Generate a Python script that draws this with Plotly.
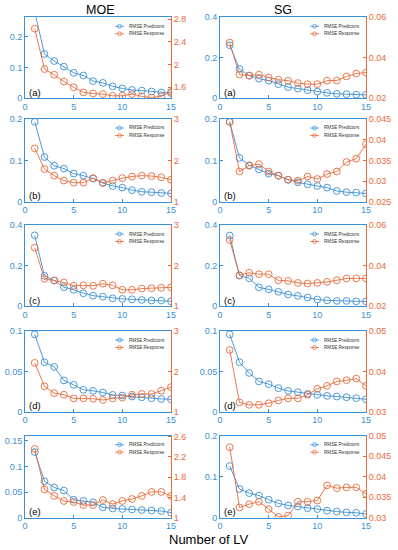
import plotly.graph_objects as go

# ---------------- data ----------------
lv = list(range(1, 16))

moe_pred_a = [0.28, 0.144, 0.121, 0.103, 0.083, 0.074, 0.056, 0.050, 0.039, 0.032, 0.027, 0.025, 0.022, 0.019, 0.017]
moe_resp_a = [2.63, 1.92, 1.82, 1.70, 1.60, 1.51, 1.49, 1.48, 1.45, 1.45, 1.48, 1.44, 1.42, 1.44, 1.52]
moe_pred_b = [0.193, 0.108, 0.087, 0.080, 0.068, 0.063, 0.056, 0.045, 0.038, 0.034, 0.028, 0.024, 0.023, 0.021, 0.020]
moe_resp_b = [2.29, 1.79, 1.63, 1.51, 1.46, 1.46, 1.57, 1.46, 1.51, 1.57, 1.61, 1.63, 1.62, 1.59, 1.53]
moe_pred_c = [0.349, 0.149, 0.126, 0.093, 0.080, 0.063, 0.051, 0.046, 0.038, 0.035, 0.033, 0.030, 0.027, 0.027, 0.023]
moe_resp_c = [2.44, 1.67, 1.63, 1.58, 1.50, 1.51, 1.50, 1.55, 1.51, 1.40, 1.40, 1.43, 1.44, 1.45, 1.46]
moe_pred_d = [0.0958, 0.0613, 0.0554, 0.0388, 0.0333, 0.0271, 0.0258, 0.0238, 0.0208, 0.0200, 0.0188, 0.0179, 0.0167, 0.0158, 0.0154]
moe_resp_d = [2.21, 1.63, 1.46, 1.42, 1.33, 1.33, 1.32, 1.29, 1.33, 1.35, 1.42, 1.44, 1.44, 1.52, 1.61]
moe_pred_e = [0.128, 0.071, 0.059, 0.053, 0.035, 0.033, 0.030, 0.020, 0.018, 0.017, 0.016, 0.015, 0.014, 0.013, 0.010]
moe_resp_e = [2.36, 1.56, 1.43, 1.33, 1.31, 1.25, 1.25, 1.35, 1.27, 1.33, 1.37, 1.43, 1.51, 1.51, 1.43]

sg_pred_a = [0.262, 0.145, 0.112, 0.097, 0.087, 0.070, 0.055, 0.048, 0.040, 0.033, 0.027, 0.022, 0.020, 0.018, 0.017]
sg_resp_a = [0.0475, 0.0317, 0.0312, 0.0317, 0.0303, 0.0292, 0.0287, 0.0275, 0.0270, 0.0270, 0.0287, 0.0288, 0.0308, 0.0322, 0.0327]
sg_pred_b = [0.193, 0.106, 0.088, 0.078, 0.068, 0.063, 0.053, 0.047, 0.042, 0.038, 0.034, 0.026, 0.023, 0.022, 0.020]
sg_resp_b = [0.0443, 0.0323, 0.0337, 0.0341, 0.0323, 0.0313, 0.0303, 0.0301, 0.0311, 0.0305, 0.0317, 0.0323, 0.0346, 0.0354, 0.0389]
sg_pred_c = [0.348, 0.150, 0.137, 0.092, 0.082, 0.070, 0.057, 0.050, 0.042, 0.032, 0.028, 0.025, 0.025, 0.023, 0.023]
sg_resp_c = [0.0526, 0.0352, 0.0364, 0.0357, 0.0357, 0.0327, 0.0324, 0.0314, 0.0311, 0.0314, 0.0319, 0.0327, 0.0336, 0.0336, 0.0336]
sg_pred_d = [0.0958, 0.0613, 0.048, 0.0375, 0.0342, 0.0292, 0.0258, 0.0242, 0.0221, 0.0208, 0.0196, 0.0188, 0.0179, 0.0167, 0.0154]
sg_resp_d = [0.0453, 0.0323, 0.0317, 0.0317, 0.0321, 0.0328, 0.0333, 0.0333, 0.0342, 0.0357, 0.0364, 0.0375, 0.0378, 0.0382, 0.0364]
sg_pred_e = [0.126, 0.070, 0.060, 0.054, 0.044, 0.035, 0.030, 0.027, 0.023, 0.021, 0.017, 0.015, 0.013, 0.012, 0.009]
sg_resp_e = [0.0472, 0.0325, 0.0333, 0.0339, 0.0321, 0.0302, 0.0305, 0.0339, 0.0339, 0.0342, 0.0379, 0.0372, 0.0374, 0.0374, 0.0358]

x_ticks = [0, 5, 10, 15]

# axis ranges and tick labels
moe_left_ranges = [[0, 0.263], [0, 0.2], [0, 0.4], [0, 0.1], [0, 0.16]]
moe_right_ranges = [[1.406, 2.83], [1, 3], [1, 3], [1, 3], [1, 2.62]]
sg_left_ranges = [[0, 0.4], [0, 0.2], [0, 0.4], [0, 0.1], [0, 0.2]]
sg_right_ranges = [[0.02, 0.06], [0.025, 0.045], [0.02, 0.06], [0.03, 0.05], [0.03, 0.05]]

moe_left_ticks = [[0, 0.1, 0.2], [0, 0.1, 0.2], [0, 0.2, 0.4], [0, 0.05, 0.1], [0, 0.05, 0.1, 0.15]]
moe_left_text = [["0", "0.1", "0.2"], ["0", "0.1", "0.2"], ["0", "0.2", "0.4"], ["0", "0.05", "0.1"], ["0", "0.05", "0.1", "0.15"]]
moe_right_ticks = [[1.6, 2, 2.4, 2.8], [1, 2, 3], [1, 2, 3], [1, 2, 3], [1, 1.4, 1.8, 2.2, 2.6]]
moe_right_text = [["1.6", "2", "2.4", "2.8"], ["1", "2", "3"], ["1", "2", "3"], ["1", "2", "3"], ["1", "1.4", "1.8", "2.2", "2.6"]]
sg_left_ticks = [[0, 0.2, 0.4], [0, 0.1, 0.2], [0, 0.2, 0.4], [0, 0.05, 0.1], [0, 0.1, 0.2]]
sg_left_text = [["0", "0.2", "0.4"], ["0", "0.1", "0.2"], ["0", "0.2", "0.4"], ["0", "0.05", "0.1"], ["0", "0.1", "0.2"]]
sg_right_ticks = [[0.02, 0.04, 0.06], [0.025, 0.03, 0.035, 0.04, 0.045], [0.02, 0.04, 0.06], [0.03, 0.04, 0.05], [0.03, 0.035, 0.04, 0.045, 0.05]]
sg_right_text = [["0.02", "0.04", "0.06"], ["0.025", "0.03", "0.035", "0.04", "0.045"], ["0.02", "0.04", "0.06"], ["0.03", "0.04", "0.05"], ["0.03", "0.035", "0.04", "0.045", "0.05"]]

panel_labels = ["(a)", "(b)", "(c)", "(d)", "(e)"]
column_titles = ["MOE", "SG"]
series_names = ["RMSE Predictors", "RMSE Response"]
x_title = "Number of LV"

moe_pred = [moe_pred_a, moe_pred_b, moe_pred_c, moe_pred_d, moe_pred_e]
moe_resp = [moe_resp_a, moe_resp_b, moe_resp_c, moe_resp_d, moe_resp_e]
sg_pred = [sg_pred_a, sg_pred_b, sg_pred_c, sg_pred_d, sg_pred_e]
sg_resp = [sg_resp_a, sg_resp_b, sg_resp_c, sg_resp_d, sg_resp_e]

# ---------------- layout geometry (pixels) ----------------
W, H = 398, 550
BLUE = "#3A8FD5"
ORANGE = "#E86A3A"
FONT = "Liberation Sans, Arial, sans-serif"
col_x = [(25, 171), (220, 366)]
row_y = [(17.3, 98.3), (119, 201.7), (225, 306), (331, 411.7), (435.7, 517.7)]

fig = go.Figure()
layout = dict()
shapes = []
annotations = []

def px(x):
    return x / W

def py(y):
    return 1 - y / H

k = 0
for col in range(2):
    for row in range(5):
        if col == 0:
            pred, resp = moe_pred[row], moe_resp[row]
            lr, rr = moe_left_ranges[row], moe_right_ranges[row]
            lt, ltt = moe_left_ticks[row], moe_left_text[row]
            rt, rtt = moe_right_ticks[row], moe_right_text[row]
        else:
            pred, resp = sg_pred[row], sg_resp[row]
            lr, rr = sg_left_ranges[row], sg_right_ranges[row]
            lt, ltt = sg_left_ticks[row], sg_left_text[row]
            rt, rtt = sg_right_ticks[row], sg_right_text[row]
        xi = k + 1
        yl = 2 * k + 1
        yr = 2 * k + 2
        x0, x1 = col_x[col]
        ytop, ybot = row_y[row]
        xname = "xaxis" if xi == 1 else f"xaxis{xi}"
        layout[xname] = dict(domain=[px(x0), px(x1)], range=[0, 15], anchor=f"y{yl}",
                             tickvals=x_ticks, ticks="inside", ticklen=3, tickcolor=BLUE,
                             tickfont=dict(color=BLUE, size=9, family=FONT),
                             showline=True, linecolor=BLUE, linewidth=0.8, mirror=True,
                             showgrid=False, zeroline=False, automargin=False)
        ylname = "yaxis" if yl == 1 else f"yaxis{yl}"
        layout[ylname] = dict(domain=[py(ybot), py(ytop)], range=lr, anchor=f"x{xi}",
                              tickvals=lt, ticktext=ltt, ticks="inside", ticklen=3, tickcolor=BLUE,
                              tickfont=dict(color=BLUE, size=9, family=FONT),
                              showline=True, linecolor=BLUE, linewidth=0.8,
                              showgrid=False, zeroline=False, automargin=False)
        layout[f"yaxis{yr}"] = dict(range=rr, anchor=f"x{xi}", overlaying=f"y{yl}", side="right",
                                    tickvals=rt, ticktext=rtt, ticks="inside", ticklen=3, tickcolor=ORANGE,
                                    tickfont=dict(color=ORANGE, size=9, family=FONT),
                                    showline=True, linecolor=ORANGE, linewidth=0.8,
                                    showgrid=False, zeroline=False, automargin=False)
        fig.add_trace(go.Scatter(x=lv, y=pred, xaxis=f"x{xi}", yaxis=f"y{yl}", mode="lines+markers",
                                 name=series_names[0], showlegend=False,
                                 line=dict(color=BLUE, width=0.9),
                                 marker=dict(symbol="circle-open", size=6.8, color=BLUE, line=dict(width=0.9))))
        fig.add_trace(go.Scatter(x=lv, y=resp, xaxis=f"x{xi}", yaxis=f"y{yr}", mode="lines+markers",
                                 name=series_names[1], showlegend=False,
                                 line=dict(color=ORANGE, width=0.9),
                                 marker=dict(symbol="circle-open", size=6.8, color=ORANGE, line=dict(width=0.9))))
        # legend key (drawn in paper space)
        for j, (nm, c) in enumerate(zip(series_names, [BLUE, ORANGE])):
            yy = ytop + 9 + 7.5 * j
            shapes.append(dict(type="line", xref="paper", yref="paper",
                               x0=px(x1 - 56), x1=px(x1 - 47), y0=py(yy), y1=py(yy),
                               line=dict(color=c, width=0.8)))
            shapes.append(dict(type="circle", xref="paper", yref="paper",
                               x0=px(x1 - 53.5), x1=px(x1 - 49.5), y0=py(yy - 2), y1=py(yy + 2),
                               line=dict(color=c, width=0.7)))
            annotations.append(dict(text=nm, x=px(x1 - 44), y=py(yy), xref="paper", yref="paper",
                                    xanchor="left", yanchor="middle", showarrow=False,
                                    font=dict(size=4.6, color="#333333", family=FONT)))
        annotations.append(dict(text=panel_labels[row], x=px(x0 + 2), y=py(ybot - 6), xref="paper", yref="paper",
                                xanchor="left", yanchor="middle", showarrow=False,
                                font=dict(size=9.5, color="black", family=FONT)))
        k += 1

annotations.append(dict(text=column_titles[0], x=px(100), y=py(10), xref="paper", yref="paper",
                        xanchor="center", yanchor="middle", showarrow=False,
                        font=dict(size=12.5, color="black", family=FONT)))
annotations.append(dict(text=column_titles[1], x=px(283), y=py(10), xref="paper", yref="paper",
                        xanchor="center", yanchor="middle", showarrow=False,
                        font=dict(size=12.5, color="black", family=FONT)))
annotations.append(dict(text=x_title, x=px(209), y=py(539), xref="paper", yref="paper",
                        xanchor="center", yanchor="middle", showarrow=False,
                        font=dict(size=13, color="black", family=FONT)))

fig.update_layout(**layout)
fig.update_layout(width=W, height=H, margin=dict(l=0, r=0, t=0, b=0),
                  paper_bgcolor="white", plot_bgcolor="white", template="none",
                  showlegend=False, shapes=shapes, annotations=annotations,
                  font=dict(family=FONT))
fig.write_html("out.html", config={"displayModeBar": False},
               post_script="document.body.style.margin='0';document.body.style.padding='0';document.body.style.overflow='hidden';")
